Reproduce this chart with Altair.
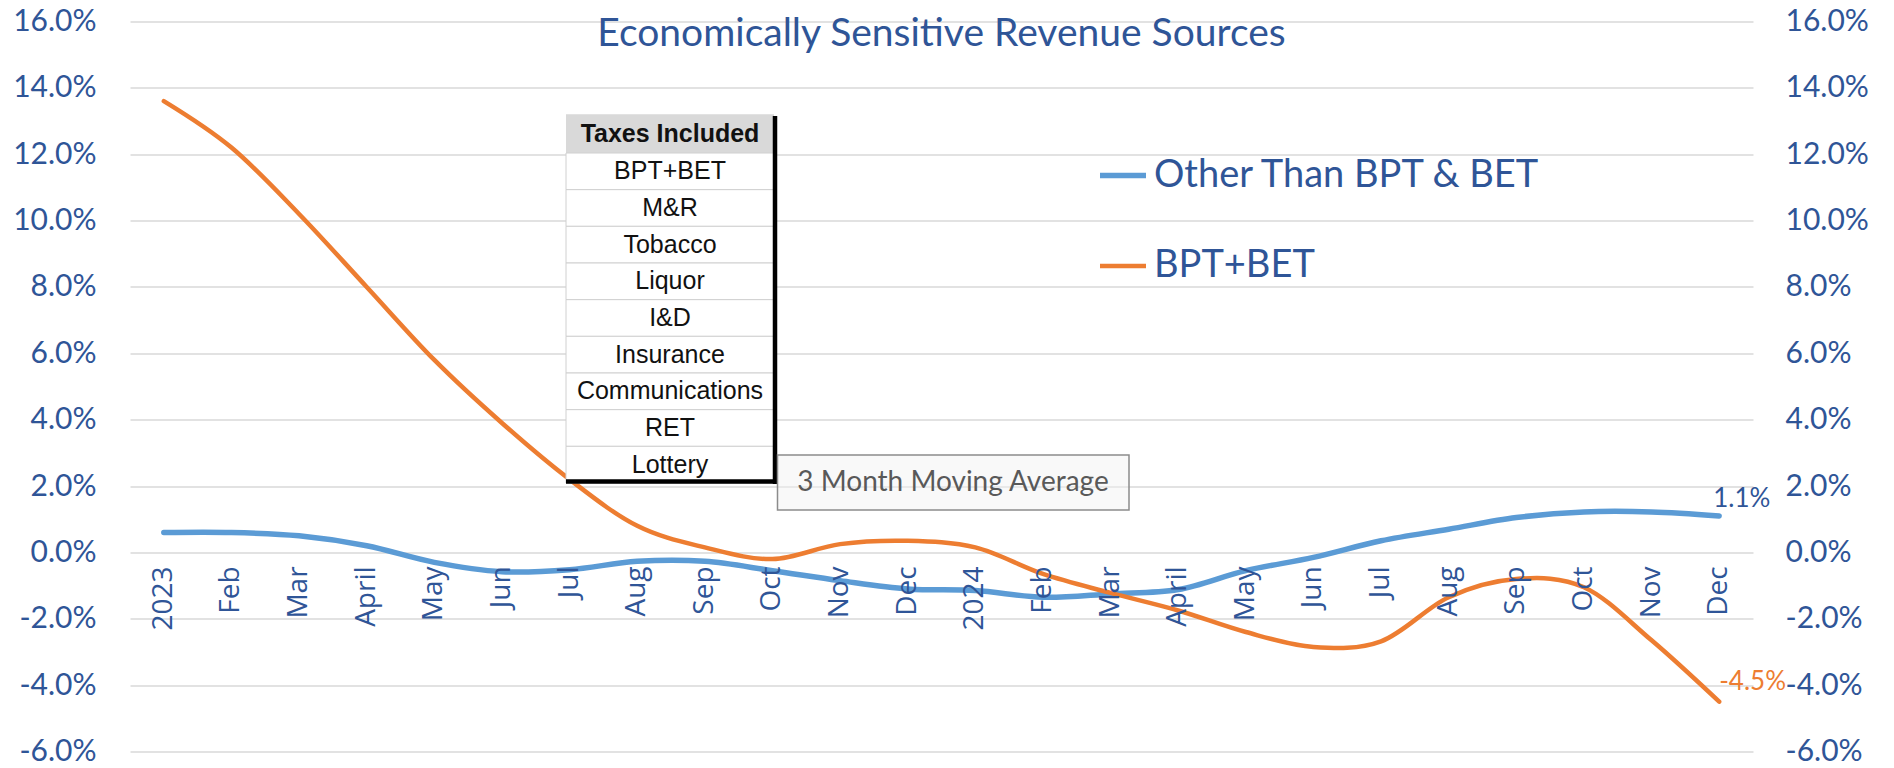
import altair as alt
import pandas as pd

# ---------------- data ----------------
months = ["2023", "Feb", "Mar", "April", "May", "Jun", "Jul", "Aug", "Sep", "Oct", "Nov", "Dec",
          "2024", "Feb", "Mar", "April", "May", "Jun", "Jul", "Aug", "Sep", "Oct", "Nov", "Dec"]
series_names = ["Other Than BPT & BET", "BPT+BET"]
other_vals = [0.6, 0.6, 0.5, 0.2, -0.3, -0.58, -0.52, -0.27, -0.27, -0.55, -0.85, -1.1,
              -1.15, -1.35, -1.25, -1.12, -0.55, -0.15, 0.35, 0.7, 1.05, 1.22, 1.22, 1.1]
bpt_vals = [13.6, 12.2, 10.2, 8.0, 5.8, 3.9, 2.2, 0.8, 0.15, -0.2, 0.25, 0.35,
            0.15, -0.65, -1.22, -1.75, -2.4, -2.85, -2.68, -1.35, -0.8, -1.05, -2.65, -4.5]
y_ticks = [-6, -4, -2, 0, 2, 4, 6, 8, 10, 12, 14, 16]
taxes = ["BPT+BET", "M&R", "Tobacco", "Liquor", "I&D", "Insurance", "Communications", "RET", "Lottery"]
table_header = "Taxes Included"
note_text = "3 Month Moving Average"
title_text = "Economically Sensitive Revenue Sources"

# ---------------- styles ----------------
C_BLUE = "#5B9BD5"
C_ORANGE = "#ED7D31"
C_TEXT = "#2F5597"
GRID = "#D9D9D9"

rows = []
for i, m in enumerate(months):
    rows.append({"idx": i, "label": m, "series": series_names[0], "value": other_vals[i]})
    rows.append({"idx": i, "label": m, "series": series_names[1], "value": bpt_vals[i]})
df = pd.DataFrame(rows)
df_months = pd.DataFrame({"idx": list(range(len(months))), "label": months})
last = len(months) - 1
df_last_other = pd.DataFrame({"idx": [last], "value": [other_vals[last]]})
df_last_bpt = pd.DataFrame({"idx": [last], "value": [bpt_vals[last]]})
df_taxes = pd.DataFrame({"tax": taxes})

xscale = alt.Scale(type="point", padding=0.5)
yscale = alt.Scale(domain=[-6, 16], nice=False, zero=False)
label_expr = "(datum.value < 0 ? '-' : '') + format(abs(datum.value), '.1f') + '%'"
pct_calc = "(datum.value < 0 ? '-' : '') + format(abs(datum.value), '.1f') + '%'"

X = alt.X("idx:O", scale=xscale, axis=None)

lines = alt.Chart(df).mark_line(interpolate="cardinal", strokeCap="round").encode(
    x=X,
    y=alt.Y("value:Q", scale=yscale,
            axis=alt.Axis(orient="left", values=y_ticks, labelExpr=label_expr, grid=True,
                          gridColor=GRID, gridWidth=1.5, domain=False, ticks=False,
                          labelPadding=34, labelFont="Lato", labelFontSize=30,
                          labelColor=C_TEXT, title=None)),
    color=alt.Color("series:N",
                    scale=alt.Scale(domain=series_names, range=[C_BLUE, C_ORANGE]),
                    legend=alt.Legend(title=None, orient="none", legendX=967, legendY=128,
                                      direction="vertical", symbolType="stroke",
                                      symbolSize=2116, symbolStrokeWidth=5,
                                      labelFont="Lato", labelFontSize=38, labelColor=C_TEXT,
                                      labelOffset=5, rowPadding=46, padding=0, labelLimit=800)),
    strokeWidth=alt.StrokeWidth("series:N",
                                scale=alt.Scale(domain=series_names, range=[5.5, 4.5]),
                                legend=None),
    order=alt.Order("idx:O"),
)

right_axis = alt.Chart(df).mark_line(opacity=0).encode(
    x=X,
    y=alt.Y("value:Q", scale=yscale,
            axis=alt.Axis(orient="right", values=y_ticks, labelExpr=label_expr, grid=False,
                          domain=False, ticks=False, labelPadding=32, labelFont="Lato",
                          labelFontSize=30, labelColor=C_TEXT, title=None)),
    detail="series:N",
)

xlabels = alt.Chart(df_months).mark_text(angle=270, align="right", baseline="middle", dx=-14,
                                         font="Open Sans", fontSize=28, color=C_TEXT).encode(
    x=X,
    y=alt.YDatum(0, type="quantitative", scale=yscale, axis=None),
    text="label:N",
)

end_other = alt.Chart(df_last_other).transform_calculate(lab=pct_calc).mark_text(
    align="left", baseline="middle", dx=-6, dy=-17, font="Lato", fontSize=26, color=C_TEXT).encode(
    x=X,
    y=alt.Y("value:Q", scale=yscale, axis=None),
    text="lab:N",
)

end_bpt = alt.Chart(df_last_bpt).transform_calculate(lab=pct_calc).mark_text(
    align="left", baseline="middle", dx=0, dy=-20, font="Lato", fontSize=26, color=C_ORANGE).encode(
    x=X,
    y=alt.Y("value:Q", scale=yscale, axis=None),
    text="lab:N",
)

# ---------------- title (drawn inside the plot area as in the reference) ----------------
title_df = pd.DataFrame({"t": [title_text]})
title = alt.Chart(title_df).mark_text(font="Lato", fontSize=39, color=C_TEXT, align="center",
                                      baseline="alphabetic").encode(
    x=alt.value(811.5), y=alt.value(24), text="t:N")

# ---------------- table overlay ----------------
TBL_FONT = "Liberation Sans"
row_y = alt.Y("tax:N", sort=taxes,
              scale=alt.Scale(type="band", domain=taxes, range=[131.5, 461.5],
                              paddingInner=0, paddingOuter=0), axis=None)

tbl_rows = alt.Chart(df_taxes).mark_rect(fill="white", stroke="#D0D0D0", strokeWidth=1).encode(
    x=alt.value(436), x2=alt.value(644), y=row_y)
tbl_text = alt.Chart(df_taxes).mark_text(font=TBL_FONT, fontSize=25, color="#111111",
                                         baseline="middle", align="center").encode(
    x=alt.value(540), y=row_y, text="tax:N")
hdr_df = pd.DataFrame({"t": [table_header]})
tbl_hdr = alt.Chart(hdr_df).mark_rect(fill="#D9D9D9").encode(
    x=alt.value(436), x2=alt.value(644), y=alt.value(92.8), y2=alt.value(131.5))
tbl_hdr_text = alt.Chart(hdr_df).mark_text(font=TBL_FONT, fontSize=25, fontWeight="bold",
                                           color="#111111", baseline="middle", align="center").encode(
    x=alt.value(540), y=alt.value(112), text="t:N")
tbl_right = alt.Chart(hdr_df).mark_rule(color="black", strokeWidth=4.5).encode(
    x=alt.value(645), y=alt.value(94.5), y2=alt.value(462.5))
tbl_bottom = alt.Chart(hdr_df).mark_rule(color="black", strokeWidth=4.5).encode(
    x=alt.value(436), x2=alt.value(647), y=alt.value(460))

note_df = pd.DataFrame({"t": [note_text]})
note_box = alt.Chart(note_df).mark_rect(fill="#F2F2F2", fillOpacity=0.45, stroke="#8C8C8C",
                                        strokeWidth=1.5).encode(
    x=alt.value(647.5), x2=alt.value(999), y=alt.value(433.5), y2=alt.value(488.5))
note_txt = alt.Chart(note_df).mark_text(font="Lato", fontSize=28, color="#595959",
                                        align="center", baseline="middle").encode(
    x=alt.value(823), y=alt.value(461), text="t:N")

chart = alt.layer(
    lines, right_axis, xlabels, end_other, end_bpt, title,
    tbl_hdr, tbl_rows, tbl_text, tbl_hdr_text, tbl_right, tbl_bottom,
    note_box, note_txt,
).resolve_scale(y="independent").properties(
    width=1623,
    height=730,
    padding={"left": 122, "top": 13.5, "right": 125, "bottom": 14},
    autosize=alt.AutoSizeParams(type="none"),
).configure(background="white").configure_view(stroke=None)

chart.save("out.html", embed_options={"renderer": "svg", "actions": False})
